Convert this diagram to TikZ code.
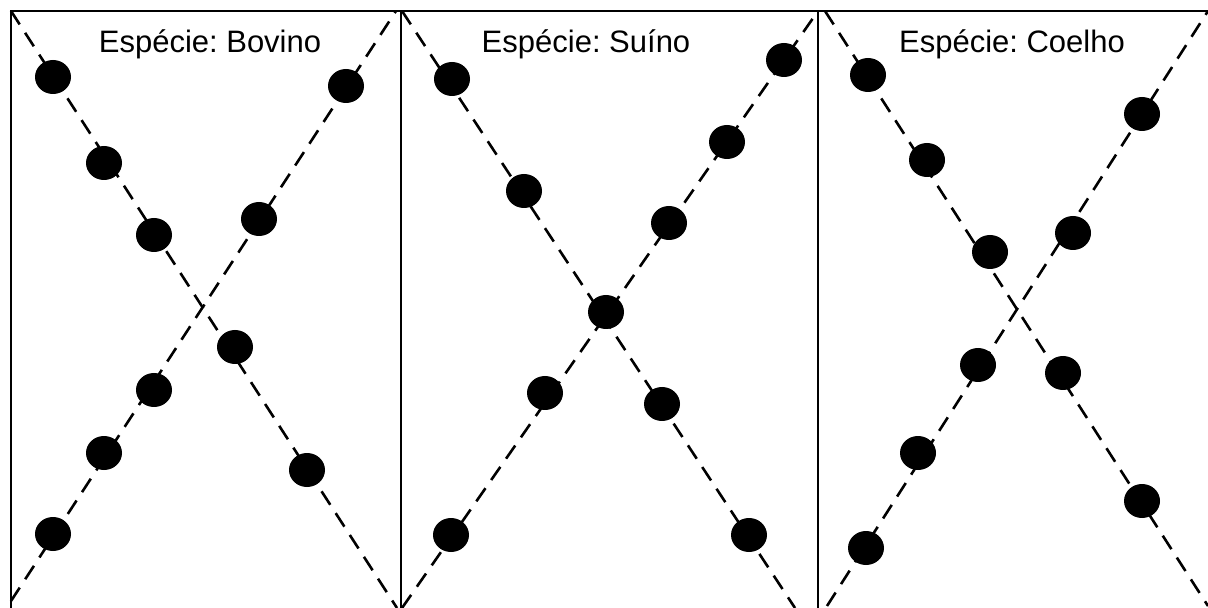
\documentclass[tikz,border=0pt]{standalone}
\usepackage{fontspec}
\setmainfont{Liberation Sans}
\frenchspacing
\usetikzlibrary{shapes.geometric}
\tikzset{
  frame/.style={line width=1.3pt, line cap=rect},
  diag/.style={line width=1.3pt, dash pattern=on 8pt off 5pt},
  dot/.style={ellipse, fill=black, minimum width=18pt, minimum height=17pt, inner sep=0pt},
  lbl/.style={anchor=base, font=\fontsize{15.5}{17}\selectfont, inner sep=0pt},
}
\begin{document}
\begin{tikzpicture}[x=0.5pt, y=-0.5pt]
\useasboundingbox (0,0) rectangle (1208,608);
% frame
\coordinate (tl) at (11,11);
\coordinate (tr) at (1208,11);
\coordinate (bl) at (11,608);
\coordinate (m1t) at (401,11);
\coordinate (m1b) at (401,608);
\coordinate (m2t) at (818,11);
\coordinate (m2b) at (818,608);
\draw[frame] (bl) -- (tl) -- (tr);
\draw[frame] (m1t) -- (m1b);
\draw[frame] (m2t) -- (m2b);
% line ends
\coordinate (bovds) at (11,11);
\coordinate (bovde) at (397,608);
\coordinate (bovas) at (11,601);
\coordinate (bovae) at (396,11);
\coordinate (suids) at (402,11);
\coordinate (suide) at (795,608);
\coordinate (suias) at (402,608);
\coordinate (suiae) at (818,11);
\coordinate (coeds) at (825,11);
\coordinate (coede) at (1208,606);
\coordinate (coeas) at (827,606);
\coordinate (coeae) at (1208,11);
\draw[diag] (bovds) -- (bovde);
\draw[diag] (bovas) -- (bovae);
\draw[diag] (suids) -- (suide);
\draw[diag] (suias) -- (suiae);
\draw[diag] (coeds) -- (coede);
\draw[diag] (coeas) -- (coeae);
% titles
\node[lbl] (bovino) at (210,53) {Espécie: Bovino};
\node[lbl] (suino) at (586,53) {Espécie: Suíno};
\node[lbl] (coelho) at (1012,53) {Espécie: Coelho};
% Bovino
\node[dot] (bd1) at (53,77) {};
\node[dot] (bd2) at (104,163) {};
\node[dot] (bd3) at (154,235) {};
\node[dot] (bd4) at (235,347) {};
\node[dot] (bd5) at (307,470) {};
\node[dot] (ba1) at (53,534) {};
\node[dot] (ba2) at (104,453) {};
\node[dot] (ba3) at (154,390) {};
\node[dot] (ba4) at (259,219) {};
\node[dot] (ba5) at (346,86) {};
% Suino
\node[dot] (sd1) at (452,79) {};
\node[dot] (sd2) at (524,191) {};
\node[dot] (sx) at (606,312) {};
\node[dot] (sd4) at (662,404) {};
\node[dot] (sd5) at (749,535) {};
\node[dot] (sa1) at (451,535) {};
\node[dot] (sa2) at (545,393) {};
\node[dot] (sa4) at (669,223) {};
\node[dot] (sa5) at (727,142) {};
\node[dot] (sa6) at (784,60) {};
% Coelho
\node[dot] (cd1) at (868,75) {};
\node[dot] (cd2) at (927,160) {};
\node[dot] (cd3) at (990,252) {};
\node[dot] (cd4) at (1063,373) {};
\node[dot] (cd5) at (1142,501) {};
\node[dot] (ca1) at (866,548) {};
\node[dot] (ca2) at (918,453) {};
\node[dot] (ca3) at (978,365) {};
\node[dot] (ca4) at (1073,233) {};
\node[dot] (ca5) at (1142,114) {};
\end{tikzpicture}
\end{document}
